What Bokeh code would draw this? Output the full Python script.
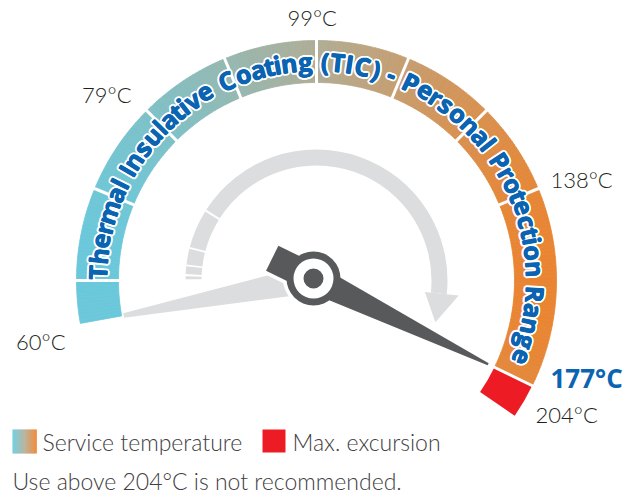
import numpy as np
from bokeh.plotting import figure
from bokeh.models import Range1d
from bokeh.core.properties import value
from bokeh.embed import file_html
from bokeh.resources import INLINE

# ---------------- data ----------------
temps = [60, 79, 99, 138, 177, 204]
temp_labels = ["60°C", "79°C", "99°C", "138°C", "177°C", "204°C"]
dial_angles = [190.3, 135.0, 90.0, 22.5, -26.0, -34.3]   # gauge scale (degrees) for each temperature
service_range = [60, 177]
excursion_range = [177, 204]
needle_temp = 177
start_temp = 60
divider_angles = [180.0, 157.5, 135.0, 112.5, 90.0, 67.5, 45.0, 22.5]
arc_title = "Thermal Insulative Coating (TIC) - Personal Protection Range"
legend_labels = ["Service temperature", "Max. excursion"]
footnote = "Use above 204°C is not recommended."

# ---------------- layout ----------------
W, H = 633, 493
def X(xi): return float(xi)
def Y(yi): return H - float(yi)

cx, cy = X(316), Y(280)      # dial centre
hx, hy = X(313), Y(278)      # hub centre
R_IN, R_OUT = 198.0, 240.0
BL = 0.42                    # baseline correction (fraction of font size)

def dial(t):
    return float(np.interp(t, temps, dial_angles))

def pol(a_deg, r):
    a = np.radians(a_deg)
    return cx + r * np.cos(a), cy + r * np.sin(a)

stops_x = [77, 316, 561]
stops_rgb = np.array([[100, 203, 225], [176, 173, 150], [240, 128, 38]], float)
def grad(xi):
    c = [int(round(np.interp(xi, stops_x, stops_rgb[:, k]))) for k in range(3)]
    return "#%02x%02x%02x" % tuple(c)

BLUE = "#0b64b2"
DARK = "#58595b"
LIGHT = "#dcddde"
RED = "#ed1c24"
LBL = "#231f20"
TXT = "#414042"

p = figure(width=W, height=H, x_range=Range1d(0, W), y_range=Range1d(0, H),
           output_backend="svg", toolbar_location=None, min_border=0,
           x_axis_location=None, y_axis_location=None)
p.grid.visible = False
p.outline_line_color = None
p.background_fill_color = "white"
p.border_fill_color = "white"

# ---- gradient service band ----
a_lo, a_hi = dial(service_range[1]), dial(service_range[0])
edges = np.linspace(a_lo, a_hi, 241)
mids = (edges[:-1] + edges[1:]) / 2
cols = [grad(316 + 219 * np.cos(np.radians(m))) for m in mids]
p.annular_wedge(x=cx, y=cy, inner_radius=R_IN, outer_radius=R_OUT,
                start_angle=list(np.radians(edges[:-1])), end_angle=list(np.radians(edges[1:])),
                fill_color=cols, line_color=cols, line_width=0.8)
# ---- excursion band ----
p.annular_wedge(x=cx, y=cy, inner_radius=R_IN, outer_radius=R_OUT,
                start_angle=np.radians(dial(excursion_range[1])), end_angle=np.radians(dial(excursion_range[0])),
                fill_color=RED, line_color=None)
# ---- dividers ----
divs = divider_angles + [dial(excursion_range[0])]
x0 = [pol(a, R_IN - 3)[0] for a in divs]; y0 = [pol(a, R_IN - 3)[1] for a in divs]
x1 = [pol(a, R_OUT + 3)[0] for a in divs]; y1 = [pol(a, R_OUT + 3)[1] for a in divs]
p.segment(x0=x0, y0=y0, x1=x1, y1=y1, line_color="white", line_width=3)

# ---- curved title ----
hw = {' ': 278, 'T': 611, 'h': 611, 'e': 556, 'r': 389, 'm': 889, 'a': 556, 'l': 278, 'I': 278,
      'n': 611, 's': 556, 'u': 611, 't': 333, 'i': 278, 'v': 556, 'C': 722, 'o': 611, 'g': 611,
      '(': 333, ')': 333, '-': 333, 'P': 667, 'c': 556, 'R': 722, 'p': 611}
wd = np.array([hw.get(c, 556) for c in arc_title], float)
cum = np.cumsum(wd) - wd / 2
t_start, t_end = 180.0, -22.4
theta = t_start - cum / wd.sum() * (t_start - t_end)
FS = 25
r_base = 209.0 + BL * FS
tx = [pol(t, r_base)[0] for t in theta]
ty = [pol(t, r_base)[1] for t in theta]
tang = list(np.radians(theta) - np.pi / 2)
chars = list(arc_title)
common = dict(x=tx, y=ty, text=chars, angle=tang, text_font=value("Open Sans"), text_font_style="bold",
              text_font_size=f"{FS}px", text_align="center", text_baseline="alphabetic")
for k in range(12):
    a = 2 * np.pi * k / 12
    p.text(x_offset=2.3 * np.cos(a), y_offset=2.3 * np.sin(a), text_color="white", **common)
for ox, oy in [(0.45, 0), (-0.45, 0), (0, 0.45), (0, -0.45)]:
    p.text(x_offset=ox, y_offset=oy, text_color=BLUE, **common)

# ---- grey arrow arc ----
arc_pieces = [(178.1, 179.4), (173.8, 177.2), (166.0, 173.0), (148.2, 165.2), (-6.0, 147.3)]
p.annular_wedge(x=cx, y=cy, inner_radius=115, outer_radius=131,
                start_angle=[np.radians(a) for a, b in arc_pieces],
                end_angle=[np.radians(b) for a, b in arc_pieces],
                fill_color=LIGHT, line_color=None)
ah = [pol(-6.0, 109), pol(-6.0, 143), pol(-19.4, 126)]
p.patch(x=[q[0] for q in ah], y=[q[1] for q in ah], fill_color=LIGHT, line_color=None)

# ---- needles ----
def needle(tip, local):
    ux, uy = tip[0] - hx, tip[1] - hy
    L = np.hypot(ux, uy); ux, uy = ux / L, uy / L
    vx, vy = -uy, ux
    xs, ys = [], []
    for a, b in local(L):
        xs.append(hx + a * ux + b * vx)
        ys.append(hy + a * uy + b * vy)
    return xs, ys

gx, gy = needle(pol(dial(start_temp), 196), lambda L: [(0, 14.5), (L, 2.3), (L, -2.3), (0, -14.5)])
p.patch(x=gx, y=gy, fill_color=LIGHT, line_color=None)

dx, dy = needle(pol(dial(needle_temp), 191),
                lambda L: [(-46, 14), (0, 14), (25, 12.5), (L, 1.2), (L, -1.2), (25, -12.5), (0, -14), (-46, -14)])
# white outline layer
p.patch(x=dx, y=dy, fill_color="white", line_color="white", line_width=7, line_join="round")
p.circle(x=hx, y=hy, radius=27, fill_color="white", line_color="white", line_width=7)
# dark layer
p.patch(x=dx, y=dy, fill_color=DARK, line_color=None)
p.circle(x=hx, y=hy, radius=27, fill_color=DARK, line_color=None)
p.circle(x=hx, y=hy, radius=20, fill_color="white", line_color=None)
p.circle(x=hx, y=hy, radius=10, fill_color=DARK, line_color=None)

# ---- temperature labels ----
lab_align = ["right", "right", "center", "left", "left", "left"]
lab_off = [(-5, 25.3), (-8.2, 0.1), (-4.3, -3.3), (3, 4), (9.3, -1.3), (12.5, 2.4)]  # image px from anchor
for t, s, al, (ox, oy) in zip(temps, temp_labels, lab_align, lab_off):
    ax_, ay_ = pol(dial(t), 250)
    bold = (t == needle_temp)
    fs = 26 if bold else 22
    p.text(x=[ax_ + ox], y=[ay_ - oy + BL * fs], text=[s], text_align=al, text_baseline="alphabetic",
           text_color=BLUE if bold else LBL,
           text_font=value("Open Sans") if bold else value("Lato Light"),
           text_font_style="bold" if bold else "normal",
           text_font_size=f"{fs}px")

# ---- legend ----
nsl = 24
lx = np.linspace(X(12), X(36), nsl + 1)
lcol = [grad(77 + (i + 0.5) / nsl * (561 - 77)) for i in range(nsl)]
p.quad(left=list(lx[:-1]), right=list(lx[1:] + 0.3), bottom=Y(453), top=Y(429),
       fill_color=lcol, line_color=None)
p.quad(left=X(262), right=X(285), bottom=Y(452), top=Y(429), fill_color=RED, line_color=None)
LFS = 23
p.text(x=[X(42), X(292)], y=[Y(450.7) + BL * LFS] * 2, text=legend_labels, text_color=TXT,
       text_font=value("Lato Light"), text_font_size=f"{LFS}px", text_baseline="alphabetic")
p.text(x=[X(12)], y=[Y(490) + BL * LFS], text=[footnote], text_color=TXT,
       text_font=value("Lato Light"), text_font_size=f"{LFS}px", text_baseline="alphabetic")

open("out.html", "w").write(file_html(p, INLINE))
